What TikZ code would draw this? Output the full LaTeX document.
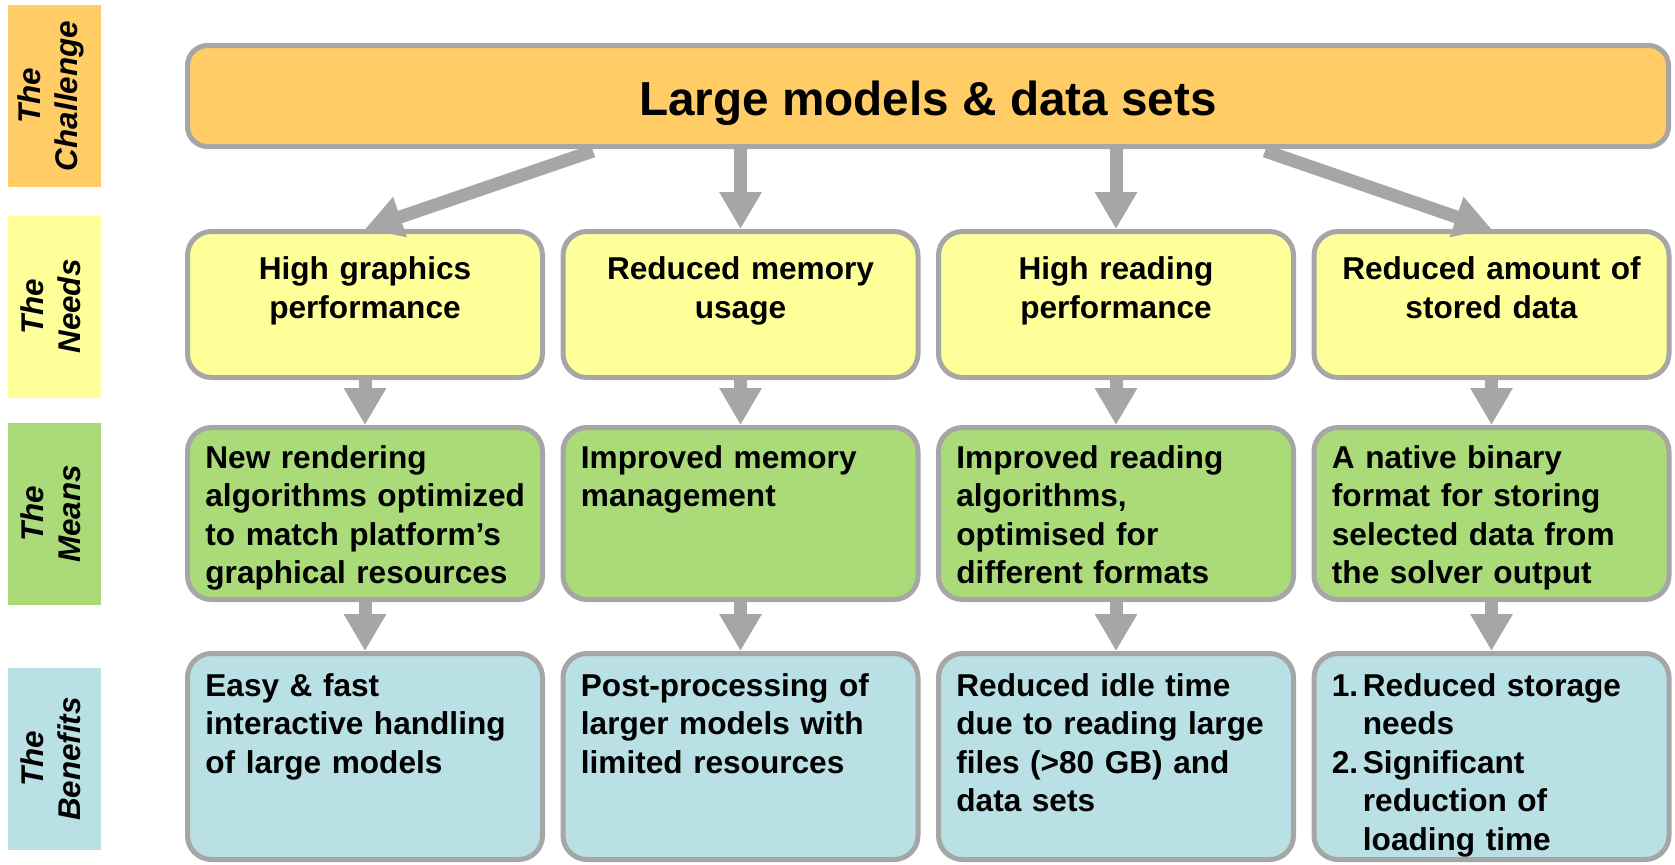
\documentclass[tikz,border=0pt]{standalone}
\usepackage{fontspec}
\setmainfont{Liberation Sans}
\usetikzlibrary{arrows.meta}
\definecolor{chalfill}{HTML}{FFCC66}
\definecolor{needfill}{HTML}{FFFF99}
\definecolor{meanfill}{HTML}{AADB78}
\definecolor{benefill}{HTML}{B9E0E4}
\definecolor{edgegray}{HTML}{A6A6A6}
\begin{document}
\begin{tikzpicture}[x=0.5pt,y=-0.5pt,
  box/.style={draw=edgegray, line width=2.5pt, rounded corners=12pt, inner sep=0pt, minimum width=177.5pt},
  lab/.style={inner sep=0pt, minimum width=46.5pt, minimum height=91pt},
  labtxt/.style={rotate=90, align=center, inner sep=0pt, font=\fontsize{15.7pt}{18.5pt}\selectfont\bfseries\itshape},
  ctxt/.style={anchor=base, align=center, text width=172pt, inner sep=0pt, font=\fontsize{15.8pt}{19.5pt}\selectfont\bfseries},
  ltxt/.style={anchor=base west, align=left, text width=172pt, inner sep=0pt, font=\fontsize{15.8pt}{19.3pt}\selectfont\bfseries},
  flow/.style={draw=edgegray, line width=6.5pt, -{Triangle[width=20pt,length=18.5pt]}},
]
\useasboundingbox (0,0) rectangle (1675,864);

% side labels
\node[lab, fill=chalfill] (l1) at (54.5,96) {};
\node[lab, fill=needfill] (l2) at (54.5,306.5) {};
\node[lab, fill=meanfill] (l3) at (54.5,514) {};
\node[lab, fill=benefill] (l4) at (54.5,759) {};
\node[labtxt] (l1t) at (51,96) {The\\Challenge};
\node[labtxt] (l2t) at (51,306.5) {The\\Needs};
\node[labtxt] (l3t) at (51,514) {The\\Means};
\node[labtxt] (l4t) at (51,759) {The\\Benefits};

% challenge
\node[box, fill=chalfill, rounded corners=10pt, minimum width=740.5pt, minimum height=50.5pt] (chal) at (928,96) {};
\node[anchor=base, inner sep=0pt, font=\fontsize{23.85pt}{28pt}\selectfont\bfseries] (title) at (928,115) {Large models \& data sets};

% needs
\node[box, fill=needfill, minimum height=73pt] (n1) at (365,304.5) {};
\node[box, fill=needfill, minimum height=73pt] (n2) at (740.5,304.5) {};
\node[box, fill=needfill, minimum height=73pt] (n3) at (1116,304.5) {};
\node[box, fill=needfill, minimum height=73pt] (n4) at (1491.5,304.5) {};
\node[ctxt] (nt1) at (365,279) {High graphics\\performance};
\node[ctxt] (nt2) at (740.5,279) {Reduced memory\\usage};
\node[ctxt] (nt3) at (1116,279) {High reading\\performance};
\node[ctxt] (nt4) at (1491.5,279) {Reduced amount of\\stored data};

% means
\node[box, fill=meanfill, minimum height=86pt] (m1) at (365,513.5) {};
\node[box, fill=meanfill, minimum height=86pt] (m2) at (740.5,513.5) {};
\node[box, fill=meanfill, minimum height=86pt] (m3) at (1116,513.5) {};
\node[box, fill=meanfill, minimum height=86pt] (m4) at (1491.5,513.5) {};
\node[ltxt] (mt1) at (205,468) {New rendering\\algorithms optimized\\to match platform’s\\graphical resources};
\node[ltxt] (mt2) at (580.5,468) {Improved memory\\management};
\node[ltxt] (mt3) at (956,468) {Improved reading\\algorithms,\\optimised for\\different formats};
\node[ltxt] (mt4) at (1331.5,468) {A native binary\\format for storing\\selected data from\\the solver output};

% benefits
\node[box, fill=benefill, minimum height=103pt] (b1) at (365,756.5) {};
\node[box, fill=benefill, minimum height=103pt] (b2) at (740.5,756.5) {};
\node[box, fill=benefill, minimum height=103pt] (b3) at (1116,756.5) {};
\node[box, fill=benefill, minimum height=103pt] (b4) at (1491.5,756.5) {};
\node[ltxt] (bt1) at (205,696) {Easy \& fast\\interactive handling\\of large models};
\node[ltxt] (bt2) at (580.5,696) {Post-processing of\\larger models with\\limited resources};
\node[ltxt] (bt3) at (956,696) {Reduced idle time\\due to reading large\\files (>80 GB) and\\data sets};
\node[ltxt] (bt4) at (1331.5,696) {\makebox[15.5pt][l]{1.}Reduced storage\\\hspace*{15.5pt}needs\\\makebox[15.5pt][l]{2.}Significant\\\hspace*{15.5pt}reduction of\\\hspace*{15.5pt}loading time};

% connectors
\coordinate (d1) at (593,151);
\coordinate (d4) at (1265,151);
\draw[flow] (d1) -- (n1.north);
\draw[flow] (chal.south -| n2.north) -- (n2.north);
\draw[flow] (chal.south -| n3.north) -- (n3.north);
\draw[flow] (d4) -- (n4.north);
\foreach \i in {1,2,3,4}{
  \draw[flow] (n\i.south) -- (m\i.north);
  \draw[flow] (m\i.south) -- (b\i.north);
}
\end{tikzpicture}
\end{document}
